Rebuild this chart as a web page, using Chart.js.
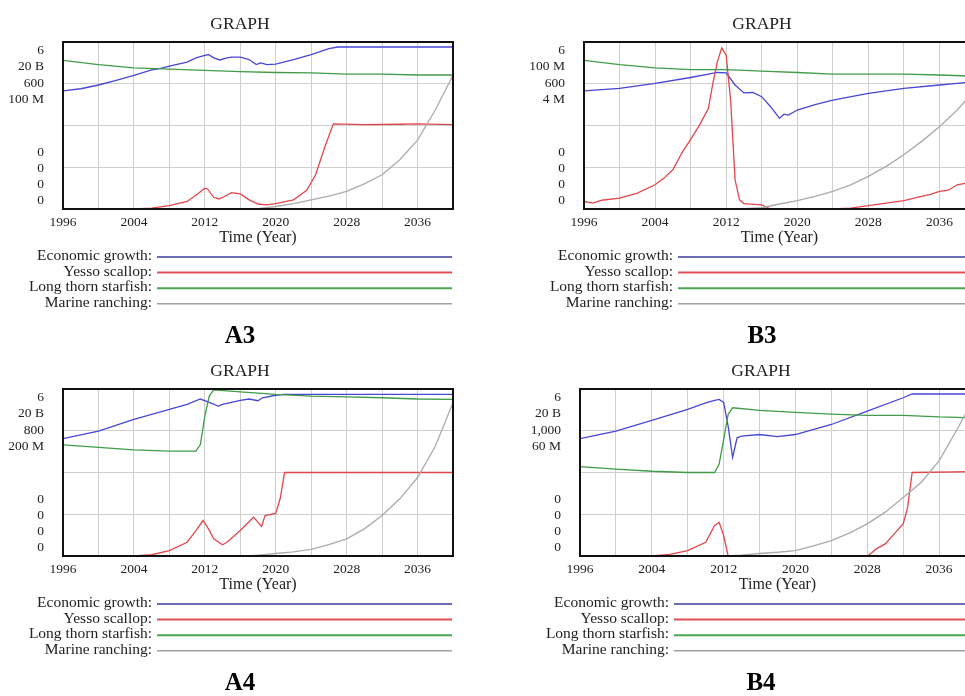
<!DOCTYPE html>
<html>
<head>
<meta charset="utf-8">
<script src="https://cdn.jsdelivr.net/npm/chart.js@4"></script>
<style>
  html, body { margin: 0; padding: 0; background: #fff; overflow: hidden; }
  body { width: 965px; height: 696px; position: relative; }
  canvas { position: absolute; }
</style>
</head>
<body>
<canvas id="a3" width="480" height="345" style="left:0;top:0"></canvas>
<canvas id="b3" width="500" height="345" style="left:480px;top:0"></canvas>
<canvas id="a4" width="480" height="345" style="left:0;top:347px"></canvas>
<canvas id="b4" width="500" height="345" style="left:480px;top:347px"></canvas>
<script>
// --- data (y in grid units, 0 = bottom, 4 = top of plot) ---
const seriesNames = ['Economic growth', 'Yesso scallop', 'Long thorn starfish', 'Marine ranching'];
const seriesColors = ['#4747d6', '#e2464c', '#3f9c48', '#ababab'];
const legendColors = ['#3c3c9c', '#e0505a', '#48a852', '#a0a0a8'];
const xTickLabels = [1996, 2004, 2012, 2020, 2028, 2036];
const yBottomLabels = ['0', '0', '0', '0'];

const a3YTop = ['6', '20 B', '600', '100 M'];
const b3YTop = ['6', '100 M', '600', '4 M'];
const a4YTop = ['6', '20 B', '800', '200 M'];
const b4YTop = ['6', '20 B', '1,000', '60 M'];

const a3Growth = [[1996,2.83],[1998,2.88],[2000,2.97],[2002,3.08],[2004,3.2],[2006,3.33],[2007,3.37],[2008,3.42],[2010,3.52],[2011,3.62],[2012,3.68],[2012.4,3.7],[2013,3.62],[2013.7,3.57],[2014.5,3.62],[2015,3.64],[2016,3.64],[2017,3.58],[2017.8,3.46],[2018.3,3.5],[2019,3.46],[2020,3.47],[2022,3.58],[2024,3.7],[2026,3.84],[2027,3.88],[2040,3.88]];
const a3Scallop = [[1996,0],[2004,0],[2006,0.02],[2008,0.08],[2010,0.18],[2011,0.33],[2012,0.5],[2012.3,0.48],[2013,0.28],[2013.6,0.24],[2014.5,0.33],[2015,0.39],[2016,0.36],[2017,0.22],[2018,0.12],[2019,0.1],[2020,0.13],[2022,0.22],[2023.5,0.45],[2024.5,0.82],[2025.5,1.46],[2026.5,2.04],[2030,2.02],[2034,2.03],[2036,2.04],[2040,2.02]];
const a3Starfish = [[1996,3.56],[2000,3.46],[2004,3.38],[2008,3.35],[2012,3.32],[2016,3.29],[2020,3.27],[2024,3.26],[2028,3.23],[2032,3.23],[2036,3.21],[2040,3.21]];
const a3Ranching = [[2017,0],[2018,0.01],[2020,0.06],[2022,0.13],[2024,0.22],[2026,0.31],[2028,0.42],[2030,0.6],[2032,0.82],[2034,1.18],[2036,1.65],[2038,2.37],[2040,3.2]];

const b3Growth = [[1996,2.83],[2000,2.89],[2004,3.01],[2008,3.15],[2010,3.23],[2011,3.27],[2012,3.26],[2013,2.97],[2014,2.78],[2015,2.79],[2016,2.69],[2017,2.45],[2018,2.17],[2018.5,2.27],[2019,2.25],[2020,2.37],[2022,2.5],[2024,2.61],[2028,2.77],[2032,2.89],[2036,2.97],[2038,3.01],[2040,3.05]];
const b3Scallop = [[1996,0.18],[1997,0.14],[1998,0.21],[2000,0.26],[2002,0.38],[2004,0.58],[2005,0.74],[2006,0.94],[2007,1.34],[2008,1.67],[2009,2.01],[2010,2.41],[2010.5,3.01],[2011,3.52],[2011.5,3.86],[2012,3.68],[2012.5,2.61],[2013,0.7],[2013.5,0.22],[2014,0.13],[2016,0.1],[2017,0],[2024,0],[2026,0.02],[2028,0.08],[2030,0.14],[2032,0.2],[2034,0.3],[2035,0.35],[2036,0.42],[2037,0.45],[2038,0.58],[2039,0.62],[2040,0.75]];
const b3Starfish = [[1996,3.56],[2000,3.46],[2004,3.38],[2008,3.34],[2012,3.34],[2016,3.3],[2020,3.27],[2024,3.23],[2028,3.23],[2032,3.23],[2036,3.21],[2040,3.18]];
const b3Ranching = [[2012,0],[2014,0.01],[2016,0.03],[2018,0.12],[2020,0.2],[2022,0.3],[2024,0.42],[2026,0.58],[2028,0.78],[2030,1.02],[2032,1.3],[2034,1.62],[2036,1.97],[2038,2.37],[2039,2.61],[2040,2.85]];

const a4Growth = [[1996,2.81],[2000,2.99],[2004,3.27],[2008,3.51],[2010,3.63],[2011.5,3.76],[2012.5,3.68],[2013.5,3.59],[2014,3.63],[2016,3.73],[2017,3.76],[2018,3.72],[2018.5,3.79],[2020,3.85],[2021,3.87],[2040,3.87]];
const a4Scallop = [[1996,0],[2004,0],[2006,0.03],[2008,0.13],[2010,0.33],[2011,0.61],[2011.8,0.85],[2012.5,0.62],[2013,0.41],[2014,0.27],[2014.5,0.33],[2016,0.61],[2017.5,0.93],[2018.4,0.71],[2018.8,0.97],[2020,1.02],[2020.5,1.37],[2021,2],[2040,2]];
const a4Starfish = [[1996,2.66],[2000,2.6],[2004,2.54],[2008,2.51],[2011,2.51],[2011.5,2.67],[2012,3.35],[2012.5,3.83],[2013,3.98],[2016,3.93],[2020,3.87],[2024,3.83],[2028,3.81],[2032,3.79],[2036,3.76],[2040,3.75]];
const a4Ranching = [[2017,0],[2018,0.02],[2020,0.06],[2022,0.1],[2024,0.16],[2026,0.27],[2028,0.41],[2030,0.65],[2032,0.97],[2034,1.37],[2036,1.88],[2038,2.63],[2040,3.67]];

const b4Growth = [[1996,2.81],[2000,2.99],[2004,3.25],[2008,3.51],[2010,3.67],[2011,3.73],[2011.5,3.75],[2012,3.68],[2012.5,3.11],[2013,2.36],[2013.5,2.83],[2014,2.87],[2016,2.91],[2018,2.86],[2020,2.91],[2024,3.15],[2028,3.47],[2032,3.79],[2033,3.88],[2040,3.88]];
const b4Scallop = [[1996,0],[2004,0],[2006,0.04],[2008,0.13],[2010,0.33],[2011,0.73],[2011.5,0.81],[2012,0.49],[2012.5,0],[2028,0],[2028.5,0.08],[2029,0.17],[2030,0.29],[2031,0.53],[2032,0.77],[2032.5,1.17],[2033,2],[2040,2.02]];
const b4Starfish = [[1996,2.14],[2000,2.08],[2004,2.03],[2008,2],[2011,2],[2011.5,2.2],[2012,2.79],[2012.5,3.39],[2013,3.55],[2016,3.49],[2020,3.44],[2024,3.4],[2028,3.37],[2032,3.37],[2036,3.33],[2040,3.31]];
const b4Ranching = [[2012,0],[2014,0.02],[2016,0.06],[2018,0.09],[2020,0.13],[2022,0.24],[2024,0.37],[2026,0.55],[2028,0.77],[2030,1.05],[2032,1.4],[2034,1.76],[2036,2.28],[2038,3.03],[2040,3.83]];

const SERIF = '"Liberation Serif", "DejaVu Serif", serif';

// draws title, stacked y labels, frame, legend and panel letter
const decorPlugin = {
  id: 'decor',
  afterDraw(chart) {
    const { ctx, chartArea: a } = chart;
    const o = chart.options.plugins.decor;
    const cx = o.centerX;
    ctx.save();
    ctx.fillStyle = '#222';

    ctx.font = '17.5px ' + SERIF;
    ctx.textAlign = 'center';
    ctx.textBaseline = 'middle';
    ctx.fillText('GRAPH', cx, 24);

    // stacked y labels
    ctx.font = '13.5px ' + SERIF;
    ctx.textAlign = 'right';
    o.yTop.forEach((t, i) => ctx.fillText(t, a.left - 19, a.top + 8 + i * 16.5));
    yBottomLabels.forEach((t, i) => ctx.fillText(t, a.left - 19, a.bottom - 57 + i * 16.3));

    // frame
    ctx.strokeStyle = '#111';
    ctx.lineWidth = 2;
    ctx.strokeRect(a.left, a.top, a.right - a.left, a.bottom - a.top);

    // legend
    ctx.font = '15.5px ' + SERIF;
    seriesNames.forEach((n, i) => {
      const y = 256 + i * 15.6;
      ctx.fillStyle = '#222';
      ctx.fillText(n + ':', a.left + 89, y);
      ctx.strokeStyle = legendColors[i];
      ctx.lineWidth = i === 1 || i === 2 ? 2 : 1.4;
      ctx.beginPath();
      ctx.moveTo(a.left + 94, y + 1);
      ctx.lineTo(a.right - 1, y + 1);
      ctx.stroke();
    });

    ctx.fillStyle = '#000';
    ctx.textAlign = 'center';
    ctx.font = 'bold 25px ' + SERIF;
    ctx.fillText(o.panel, cx, 337);
    ctx.restore();
  }
};

function makePanel(id, panel, yTop, series, plotLeft, plotWidth, canvasWidth, centerX) {
  const ds = series.map((d, i) => ({
    label: seriesNames[i],
    data: d,
    borderColor: seriesColors[i],
    borderWidth: 1.3,
    pointRadius: 0,
    tension: 0,
    fill: false
  }));
  // draw order: ranching under the rest
  ds.reverse();
  new Chart(document.getElementById(id), {
    type: 'line',
    data: { datasets: ds },
    plugins: [decorPlugin],
    options: {
      responsive: false,
      animation: false,
      layout: {
        autoPadding: false,
        padding: { top: 42, left: 0, right: canvasWidth - plotLeft - plotWidth, bottom: 345 - 209 - 41 }
      },
      plugins: {
        legend: { display: false },
        tooltip: { enabled: false },
        decor: { panel: panel, yTop: yTop, centerX: centerX }
      },
      scales: {
        x: {
          type: 'linear', min: 1996, max: 2040,
          afterFit: s => { s.height = 41; },
          grid: { color: '#cfcfcf', drawTicks: false, lineWidth: 1 },
          border: { display: false },
          ticks: {
            stepSize: 4, padding: 5, maxRotation: 0, autoSkip: false,
            color: '#222', font: { family: SERIF, size: 13.5 },
            callback: v => xTickLabels.includes(v) ? String(v) : ''
          },
          title: { display: true, text: 'Time (Year)', color: '#222', font: { family: SERIF, size: 16 }, padding: { top: 2, bottom: 3 } }
        },
        y: {
          min: 0, max: 4,
          afterFit: s => { s.width = plotLeft; },
          grid: { color: '#cfcfcf', drawTicks: false, lineWidth: 1 },
          border: { display: false },
          ticks: { stepSize: 1, display: false }
        }
      }
    }
  });
}

makePanel('a3', 'A3', a3YTop, [a3Growth, a3Scallop, a3Starfish, a3Ranching], 63, 390, 480, 240);
makePanel('b3', 'B3', b3YTop, [b3Growth, b3Scallop, b3Starfish, b3Ranching], 104, 392, 500, 282);
makePanel('a4', 'A4', a4YTop, [a4Growth, a4Scallop, a4Starfish, a4Ranching], 63, 390, 480, 240);
makePanel('b4', 'B4', b4YTop, [b4Growth, b4Scallop, b4Starfish, b4Ranching], 100, 395, 500, 281);
</script>
</body>
</html>
